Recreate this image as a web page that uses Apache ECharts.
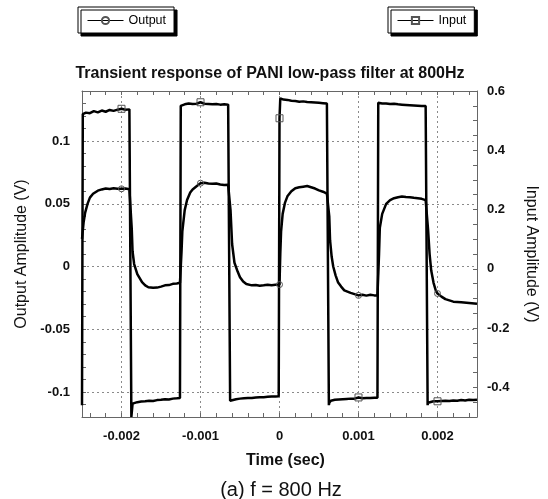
<!DOCTYPE html>
<html>
<head>
<meta charset="utf-8">
<script src="https://cdn.jsdelivr.net/npm/echarts@6/dist/echarts.min.js"></script>
<style>
  html, body { margin: 0; padding: 0; background: #fff; }
  #chart { width: 548px; height: 499px; }
</style>
</head>
<body>
<div id="chart"></div>
<script>
// Filter output (V) against time (s)
const outputPoints = [
  [-0.0025, 0.022], [-0.00248, 0.035], [-0.00246, 0.043], [-0.00243, 0.050], [-0.0024, 0.055],
  [-0.00236, 0.058], [-0.0023, 0.0605], [-0.00225, 0.0615], [-0.0022, 0.0622], [-0.00215, 0.0618],
  [-0.0021, 0.0624], [-0.00205, 0.062], [-0.002, 0.062], [-0.00195, 0.0622], [-0.0019, 0.0616],
  [-0.00188, 0.0615],
  [-0.00187, 0.030], [-0.00186, 0.012], [-0.00184, 0.002], [-0.0018, -0.006], [-0.00174, -0.0125],
  [-0.0017, -0.015], [-0.00166, -0.0165], [-0.0016, -0.017], [-0.00155, -0.0168], [-0.0015, -0.016],
  [-0.00145, -0.015], [-0.0014, -0.0148], [-0.00135, -0.0138], [-0.0013, -0.0135], [-0.00126, -0.013],
  [-0.00125, -0.0125], [-0.00124, 0.012], [-0.00123, 0.028], [-0.0012, 0.045], [-0.00117, 0.053],
  [-0.00113, 0.059], [-0.0011, 0.0615], [-0.00105, 0.064], [-0.001, 0.0665], [-0.00095, 0.0668],
  [-0.0009, 0.0662], [-0.00085, 0.066], [-0.0008, 0.0662], [-0.00075, 0.0655], [-0.0007, 0.065],
  [-0.00065, 0.0652], [-0.00063, 0.0645],
  [-0.00062, 0.045], [-0.0006, 0.018], [-0.00057, 0.003], [-0.00053, -0.004], [-0.0005, -0.0085],
  [-0.00046, -0.012], [-0.00042, -0.014], [-0.00035, -0.015], [-0.0003, -0.0148], [-0.00025, -0.0153],
  [-0.0002, -0.015], [-0.00015, -0.0145], [-0.0001, -0.0149], [-0.00005, -0.0145], [0, -0.0144],
  [0.00001, 0.010], [0.00002, 0.028], [0.00004, 0.042], [0.00007, 0.051], [0.0001, 0.056],
  [0.00015, 0.060], [0.0002, 0.0625], [0.00025, 0.0632], [0.0003, 0.0637], [0.00035, 0.0642],
  [0.0004, 0.0632], [0.00045, 0.0622], [0.0005, 0.0607], [0.00055, 0.0597], [0.0006, 0.0582],
  [0.00062, 0.0575],
  [0.00063, 0.040], [0.00064, 0.021], [0.00066, 0.008], [0.00068, 0.0], [0.00071, -0.007],
  [0.00074, -0.0125], [0.00078, -0.016], [0.00082, -0.019], [0.0009, -0.021], [0.00095, -0.022],
  [0.001, -0.023], [0.00105, -0.0225], [0.0011, -0.0232], [0.00115, -0.0225], [0.0012, -0.023],
  [0.00124, -0.023],
  [0.00125, -0.023], [0.00126, 0.010], [0.00127, 0.031], [0.0013, 0.042], [0.00135, 0.050],
  [0.0014, 0.053], [0.00145, 0.0545], [0.0015, 0.0553], [0.00155, 0.0558], [0.0016, 0.0555],
  [0.00165, 0.0553], [0.0017, 0.0548], [0.00175, 0.0545], [0.0018, 0.054], [0.00185, 0.053],
  [0.00187, 0.0525],
  [0.00188, 0.030], [0.0019, 0.010], [0.00192, -0.003], [0.00195, -0.013], [0.00198, -0.0195],
  [0.002, -0.0215], [0.00205, -0.024], [0.0021, -0.026], [0.00215, -0.027], [0.0022, -0.028],
  [0.0023, -0.0285], [0.0024, -0.029], [0.0025, -0.0296]
];

// Square-wave drive signal (V) against time (s)
const inputPoints = [
  [-0.0025, -0.46], [-0.00249, 0.522], [-0.00245, 0.527], [-0.0024, 0.525], [-0.00235, 0.532],
  [-0.0023, 0.528], [-0.00225, 0.534], [-0.0022, 0.530], [-0.00215, 0.536], [-0.0021, 0.533],
  [-0.00205, 0.537], [-0.002, 0.540], [-0.00195, 0.537], [-0.0019, 0.538], [-0.00188, 0.538],
  [-0.001875, -0.50], [-0.00186, -0.455], [-0.00185, -0.452], [-0.0018, -0.450], [-0.00175, -0.448],
  [-0.0017, -0.447], [-0.00165, -0.445], [-0.0016, -0.446], [-0.00155, -0.443], [-0.0015, -0.442],
  [-0.00145, -0.440], [-0.0014, -0.441], [-0.00135, -0.438], [-0.0013, -0.437], [-0.00126, -0.436],
  [-0.00125, 0.55], [-0.00124, 0.556], [-0.0012, 0.555], [-0.00115, 0.558], [-0.0011, 0.556],
  [-0.00105, 0.557], [-0.001, 0.562], [-0.00095, 0.557], [-0.0009, 0.556], [-0.00085, 0.555],
  [-0.0008, 0.556], [-0.00075, 0.554], [-0.0007, 0.555], [-0.00065, 0.554], [-0.00063, 0.553],
  [-0.000625, -0.445], [-0.00062, -0.443], [-0.0006, -0.441], [-0.00055, -0.440], [-0.0005, -0.438],
  [-0.00045, -0.437], [-0.0004, -0.436], [-0.00035, -0.436], [-0.0003, -0.434], [-0.00025, -0.433],
  [-0.0002, -0.433], [-0.00015, -0.432], [-0.0001, -0.431], [-0.00005, -0.431], [-0.00001, -0.430],
  [0, 0.508], [0.00001, 0.575], [0.00002, 0.574], [0.00005, 0.571], [0.0001, 0.570],
  [0.00015, 0.567], [0.0002, 0.566], [0.00025, 0.564], [0.0003, 0.565], [0.00035, 0.563],
  [0.0004, 0.562], [0.00045, 0.561], [0.0005, 0.560], [0.00055, 0.559], [0.0006, 0.558],
  [0.00062, 0.558],
  [0.000625, -0.46], [0.00063, -0.452], [0.00065, -0.445], [0.0007, -0.442], [0.00075, -0.441],
  [0.0008, -0.440], [0.00085, -0.439], [0.0009, -0.438], [0.00095, -0.438], [0.001, -0.434],
  [0.00105, -0.437], [0.0011, -0.436], [0.00115, -0.436], [0.0012, -0.435], [0.00124, -0.435],
  [0.00125, 0.56], [0.00126, 0.560], [0.0013, 0.558], [0.00135, 0.558], [0.0014, 0.556],
  [0.00145, 0.557], [0.0015, 0.555], [0.00155, 0.554], [0.0016, 0.553], [0.00165, 0.552],
  [0.0017, 0.551], [0.00175, 0.550], [0.0018, 0.549], [0.00185, 0.549], [0.00187, 0.548],
  [0.001875, -0.46], [0.00188, -0.452], [0.0019, -0.449], [0.00195, -0.447], [0.002, -0.447],
  [0.00205, -0.446], [0.0021, -0.445], [0.00215, -0.446], [0.0022, -0.444], [0.00225, -0.445],
  [0.0023, -0.443], [0.00235, -0.444], [0.0024, -0.442], [0.00245, -0.443], [0.0025, -0.442]
];

// Times at which each trace carries its marker
const markerTimes = [-0.002, -0.001, 0, 0.001, 0.002];

// Axis ticks and labels
const xLabelValues = [-0.002, -0.001, 0, 0.001, 0.002];
const xTickValues = [
  -0.0024, -0.0022, -0.002, -0.0018, -0.0016, -0.0014, -0.0012, -0.001, -0.0008, -0.0006,
  -0.0004, -0.0002, 0, 0.0002, 0.0004, 0.0006, 0.0008, 0.001, 0.0012, 0.0014,
  0.0016, 0.0018, 0.002, 0.0022, 0.0024
];
const leftLabelValues = [-0.1, -0.05, 0, 0.05, 0.1];
const rightLabelValues = [-0.4, -0.2, 0, 0.2, 0.4, 0.6];

const FONT = '"Liberation Sans", Arial, Helvetica, sans-serif';
const FRAME = '#666';
const GRIDLINE = { show: true, lineStyle: { color: '#8a8a8a', width: 1, type: [2, 3] } };

function withMarkers(points, symbol) {
  return points.map(function (p) {
    const marked = markerTimes.some(function (m) { return Math.abs(m - p[0]) < 1e-9; });
    return { value: p, symbol: marked ? symbol : 'none' };
  });
}

const labelStyle = { color: '#111', fontFamily: FONT, fontWeight: 'bold', fontSize: 13 };
const hidden = { show: false };

function legendBox(name, left) {
  return {
    data: [name], left: left, top: 7, orient: 'horizontal',
    padding: [7, 8, 6, 9], itemWidth: 36, itemHeight: 9, itemGap: 5,
    backgroundColor: '#fff', borderColor: '#000', borderWidth: 1,
    shadowColor: '#000', shadowBlur: 0, shadowOffsetX: 3, shadowOffsetY: 3,
    lineStyle: { width: 1 },
    textStyle: { fontFamily: FONT, fontSize: 12.5, color: '#000' }
  };
}

const chart = echarts.init(document.getElementById('chart'), null, { renderer: 'canvas' });

chart.setOption({
  animation: false,
  backgroundColor: '#fff',
  title: [
    {
      text: 'Transient response of PANI low-pass filter at 800Hz',
      left: 265, top: 61, textAlign: 'center',
      textStyle: { fontFamily: FONT, fontWeight: 'bold', fontSize: 16, color: '#111' }
    },
    {
      text: '(a) f = 800 Hz',
      left: 276, top: 475, textAlign: 'center',
      textStyle: { fontFamily: FONT, fontWeight: 'normal', fontSize: 20, color: '#111' }
    }
  ],
  legend: [legendBox('Output', 78), legendBox('Input', 388)],
  grid: { left: 82, right: 71, top: 91, bottom: 82, containLabel: false },
  xAxis: [
    {
      type: 'value', position: 'bottom', min: -0.0025, max: 0.0025,
      name: 'Time (sec)', nameLocation: 'middle', nameGap: 36,
      nameTextStyle: { fontFamily: FONT, fontWeight: 'bold', fontSize: 16, color: '#111', padding: [0, 0, 0, 12] },
      axisLine: { show: true, onZero: false, lineStyle: { color: FRAME, width: 1 } },
      axisTick: { show: true, inside: true, length: 4, customValues: xTickValues, lineStyle: { color: FRAME } },
      axisLabel: Object.assign({ margin: 13, customValues: xLabelValues, formatter: function (v) { return String(v); } }, labelStyle),
      splitLine: hidden
    },
    {
      type: 'value', position: 'top', min: -0.0025, max: 0.0025,
      axisLine: { show: true, onZero: false, lineStyle: { color: FRAME, width: 1 } },
      axisTick: { show: true, inside: true, length: 4, customValues: xTickValues, lineStyle: { color: FRAME } },
      axisLabel: hidden, splitLine: hidden
    },
    {
      type: 'value', position: 'bottom', min: -0.0025, max: 0.0025,
      axisLine: hidden,
      axisTick: { show: false, customValues: xLabelValues },
      axisLabel: hidden, splitLine: GRIDLINE
    }
  ],
  yAxis: [
    {
      type: 'value', position: 'left', min: -0.12, max: 0.14, interval: 0.01,
      name: 'Output Amplitude (V)', nameLocation: 'middle', nameGap: 50,
      nameTextStyle: { fontFamily: FONT, fontSize: 16, color: '#111' },
      axisLine: { show: true, onZero: false, lineStyle: { color: FRAME, width: 1 } },
      axisTick: { show: true, inside: true, length: 4, lineStyle: { color: FRAME } },
      axisLabel: Object.assign({ margin: 12, customValues: leftLabelValues, formatter: function (v) { return String(v); } }, labelStyle),
      splitLine: hidden
    },
    {
      type: 'value', position: 'right', min: -0.5, max: 0.6, interval: 0.05,
      name: 'Input Amplitude (V)', nameLocation: 'middle', nameGap: 46, nameRotate: -90,
      nameTextStyle: { fontFamily: FONT, fontSize: 16, color: '#111' },
      axisLine: { show: true, onZero: false, lineStyle: { color: FRAME, width: 1 } },
      axisTick: { show: true, inside: true, length: 4, lineStyle: { color: FRAME } },
      axisLabel: Object.assign({ margin: 10, customValues: rightLabelValues, formatter: function (v) { return String(v); } }, labelStyle),
      splitLine: hidden
    },
    {
      type: 'value', position: 'left', min: -0.12, max: 0.14,
      axisLine: hidden,
      axisTick: { show: false, customValues: leftLabelValues },
      axisLabel: hidden, splitLine: GRIDLINE
    }
  ],
  series: [
    {
      name: 'Output', type: 'line', xAxisIndex: 0, yAxisIndex: 0,
      symbol: 'circle', symbolSize: 6,
      itemStyle: { color: 'rgba(255,255,255,0)', borderColor: '#555', borderWidth: 1 },
      lineStyle: { color: '#000', width: 2.5 },
      data: withMarkers(outputPoints, 'circle'), z: 3
    },
    {
      name: 'Input', type: 'line', xAxisIndex: 0, yAxisIndex: 1,
      symbol: 'rect', symbolSize: 7,
      itemStyle: { color: 'rgba(255,255,255,0)', borderColor: '#555', borderWidth: 1 },
      lineStyle: { color: '#000', width: 2.5 },
      data: withMarkers(inputPoints, 'rect'), z: 3
    }
  ]
});
</script>
</body>
</html>
